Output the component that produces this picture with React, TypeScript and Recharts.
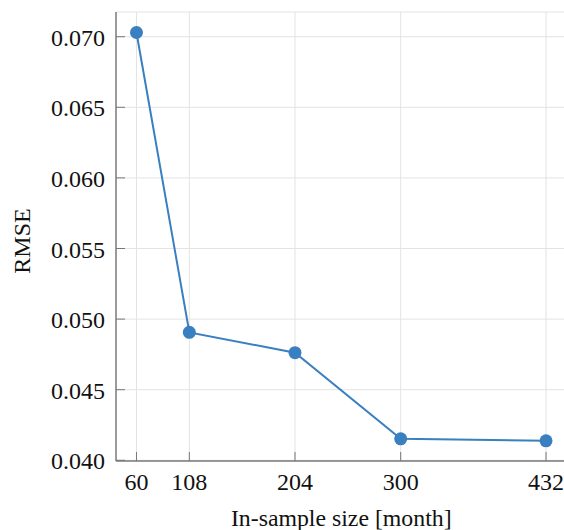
import { LineChart, Line, XAxis, YAxis, CartesianGrid } from 'recharts';

const sampleSizes = [60, 108, 204, 300, 432];
const rmseValues = [0.0703, 0.04906, 0.04762, 0.04152, 0.04138];
const xTicks = [60, 108, 204, 300, 432];
const yTicks = [0.04, 0.045, 0.05, 0.055, 0.06, 0.065, 0.07];

const data = sampleSizes.map((size, i) => ({ size, rmse: rmseValues[i] }));

const FONT = '"Liberation Serif", "DejaVu Serif", serif';
const TICK_LEN = 9;
const TICK_COLOR = '#777';
const AXIS_COLOR = '#444';
const LINE_COLOR = '#3a7fc0';
const textStyle = { fontFamily: FONT, fontSize: 24, fill: '#111' };

// ticks point inward, like pgfplots
const BottomTick = (props: any) => {
  const { x, y, payload } = props;
  return (
    <g>
      <line x1={x} y1={y} x2={x} y2={y - TICK_LEN} stroke={TICK_COLOR} />
      <text x={x} y={y + 29} textAnchor="middle" style={textStyle}>
        {payload.value}
      </text>
    </g>
  );
};

const TopTick = (props: any) => {
  const { x, y } = props;
  return <line x1={x} y1={y} x2={x} y2={y + TICK_LEN} stroke={TICK_COLOR} />;
};

const LeftTick = (props: any) => {
  const { x, y, payload } = props;
  return (
    <g>
      <line x1={x} y1={y} x2={x + TICK_LEN} y2={y} stroke={TICK_COLOR} />
      <text x={x - 11} y={y + 9} textAnchor="end" style={textStyle}>
        {Number(payload.value).toFixed(3)}
      </text>
    </g>
  );
};

const RightTick = (props: any) => {
  const { x, y } = props;
  return <line x1={x} y1={y} x2={x - TICK_LEN} y2={y} stroke={TICK_COLOR} />;
};

export default function App() {
  return (
    <div style={{ position: 'absolute', left: 0, top: 0, width: 564, height: 530, overflow: 'hidden', background: '#fff' }}>
      <LineChart width={580} height={530} data={data} margin={{ top: 12, right: 13.5, bottom: 0, left: 0 }}>
        <CartesianGrid xAxisId="bottom" yAxisId="left" stroke="#e3e3e3" strokeWidth={1} />
        <XAxis
          xAxisId="bottom"
          dataKey="size"
          type="number"
          domain={[41.4, 450.6]}
          allowDataOverflow
          ticks={xTicks}
          height={69}
          tickSize={0}
          tickMargin={0}
          tickLine={false}
          axisLine={{ stroke: AXIS_COLOR }}
          tick={(p: any) => <BottomTick {...p} />}
          label={{
            content: (p: any) => {
              const vb = p.viewBox;
              return (
                <text x={vb.x + vb.width / 2} y={526} textAnchor="middle" style={{ ...textStyle, fontSize: 23.8 }}>
                  In-sample size [month]
                </text>
              );
            },
          }}
        />
        <XAxis
          xAxisId="top"
          orientation="top"
          dataKey="size"
          type="number"
          domain={[41.4, 450.6]}
          allowDataOverflow
          ticks={xTicks}
          height={0}
          tickSize={0}
          tickMargin={0}
          tickLine={false}
          axisLine={{ stroke: AXIS_COLOR }}
          tick={(p: any) => <TopTick {...p} />}
        />
        <YAxis
          yAxisId="left"
          type="number"
          domain={[0.03995, 0.07175]}
          allowDataOverflow
          ticks={yTicks}
          width={116}
          tickSize={0}
          tickMargin={0}
          tickLine={false}
          axisLine={{ stroke: AXIS_COLOR }}
          tick={(p: any) => <LeftTick {...p} />}
          label={{
            content: () => (
              <text
                x={30}
                y={241}
                transform="rotate(-90, 30, 241)"
                textAnchor="middle"
                style={{ ...textStyle, fontSize: 24 }}
              >
                RMSE
              </text>
            ),
          }}
        />
        <YAxis
          yAxisId="right"
          orientation="right"
          type="number"
          domain={[0.03995, 0.07175]}
          allowDataOverflow
          ticks={yTicks}
          width={0}
          tickSize={0}
          tickMargin={0}
          tickLine={false}
          axisLine={{ stroke: AXIS_COLOR }}
          tick={(p: any) => <RightTick {...p} />}
        />
        <Line
          xAxisId="bottom"
          yAxisId="left"
          type="linear"
          dataKey="rmse"
          stroke={LINE_COLOR}
          strokeWidth={2}
          dot={{ r: 6.5, fill: LINE_COLOR, stroke: LINE_COLOR, strokeWidth: 0 }}
          isAnimationActive={false}
        />
      </LineChart>
    </div>
  );
}
